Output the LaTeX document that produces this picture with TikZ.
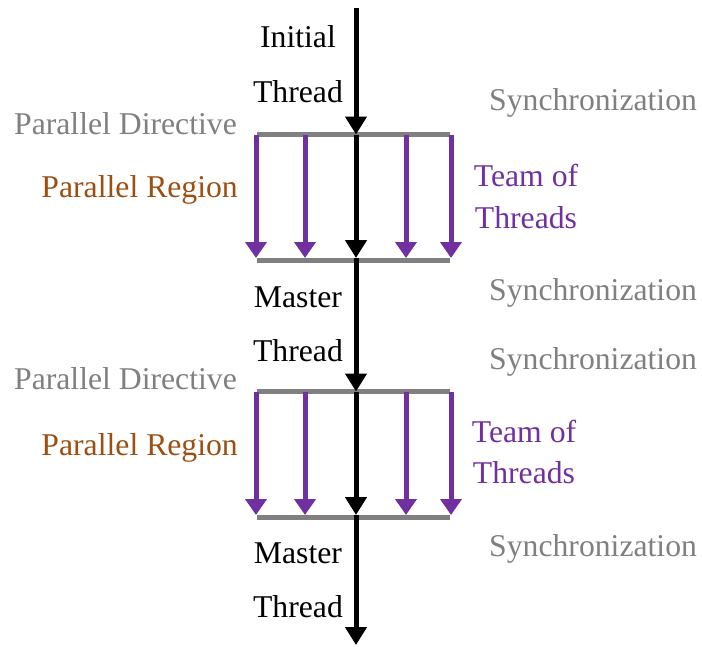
\documentclass[tikz,border=0pt]{standalone}
\usepackage{fontspec}
\setmainfont{Liberation Serif}
\usetikzlibrary{arrows.meta}
\definecolor{syncgray}{HTML}{808080}
\definecolor{barpurple}{HTML}{7030A0}
\definecolor{regionbrown}{HTML}{9C4F12}
\tikzset{
  lbl/.style={inner sep=0pt, font=\fontsize{31.7}{38}\selectfont},
  thread/.style={lbl, anchor=base, text=black},
  sync/.style={lbl, anchor=base west, text=syncgray},
  directive/.style={lbl, anchor=base east, text=syncgray},
  region/.style={lbl, anchor=base east, text=regionbrown},
  team/.style={lbl, anchor=base, text=barpurple},
  bar/.style={draw=syncgray, line width=5pt},
  master/.style={draw=black, line width=5pt, -{Triangle[length=18pt, width=21pt]}},
  worker/.style={draw=barpurple, line width=5pt, -{Triangle[length=16pt, width=21pt]}}
}
\begin{document}
\begin{tikzpicture}[x=1pt, y=-1pt]
  \useasboundingbox (0,0) rectangle (702,646);
  % start and end of the master thread
  \coordinate (start) at (356,8);
  \coordinate (finish) at (356,645);
  % fork and join bars of both parallel regions
  \foreach \k/\dy in {1/0, 2/257} {
    \coordinate (fork\k L) at (257,134.5+\dy);
    \coordinate (fork\k R) at (450,134.5+\dy);
    \coordinate (fork\k M) at (356,134.5+\dy);
    \coordinate (join\k L) at (257,260+\dy);
    \coordinate (join\k R) at (450,260+\dy);
    \coordinate (join\k M) at (356,258+\dy);
    \draw[bar] (fork\k L) -- (fork\k R);
    \draw[bar] (join\k L) -- (join\k R);
    % team of threads
    \foreach \x in {256, 305, 406, 451} {
      \coordinate (w\k a\x) at (\x,135+\dy);
      \coordinate (w\k b\x) at (\x,258+\dy);
      \draw[worker] (w\k a\x) -- (w\k b\x);
    }
  }
  % master thread
  \draw[master] (start) -- (fork1M);
  \draw[master] (fork1M) -- (join1M);
  \draw[master] (join1M) -- (fork2M);
  \draw[master] (fork2M) -- (join2M);
  \draw[master] (join2M) -- (finish);
  % labels
  \node[thread] (init1) at (298,47) {Initial};
  \node[thread] (init2) at (298,102) {Thread};
  \node[sync] (s1) at (489,110) {Synchronization};
  \node[directive] (d1) at (237,134) {Parallel Directive};
  \node[region] (r1) at (238,197) {Parallel Region};
  \node[team] (t1a) at (526,186) {Team of};
  \node[team] (t1b) at (526,228) {Threads};
  \node[sync] (s2) at (489,300) {Synchronization};
  \node[thread] (m1a) at (298,307) {Master};
  \node[thread] (m1b) at (298,361) {Thread};
  \node[sync] (s3) at (489,369) {Synchronization};
  \node[directive] (d2) at (237,389) {Parallel Directive};
  \node[region] (r2) at (238,455) {Parallel Region};
  \node[team] (t2a) at (524,442) {Team of};
  \node[team] (t2b) at (524,483) {Threads};
  \node[sync] (s4) at (489,556) {Synchronization};
  \node[thread] (m2a) at (298,563) {Master};
  \node[thread] (m2b) at (298,617) {Thread};
\end{tikzpicture}
\end{document}
